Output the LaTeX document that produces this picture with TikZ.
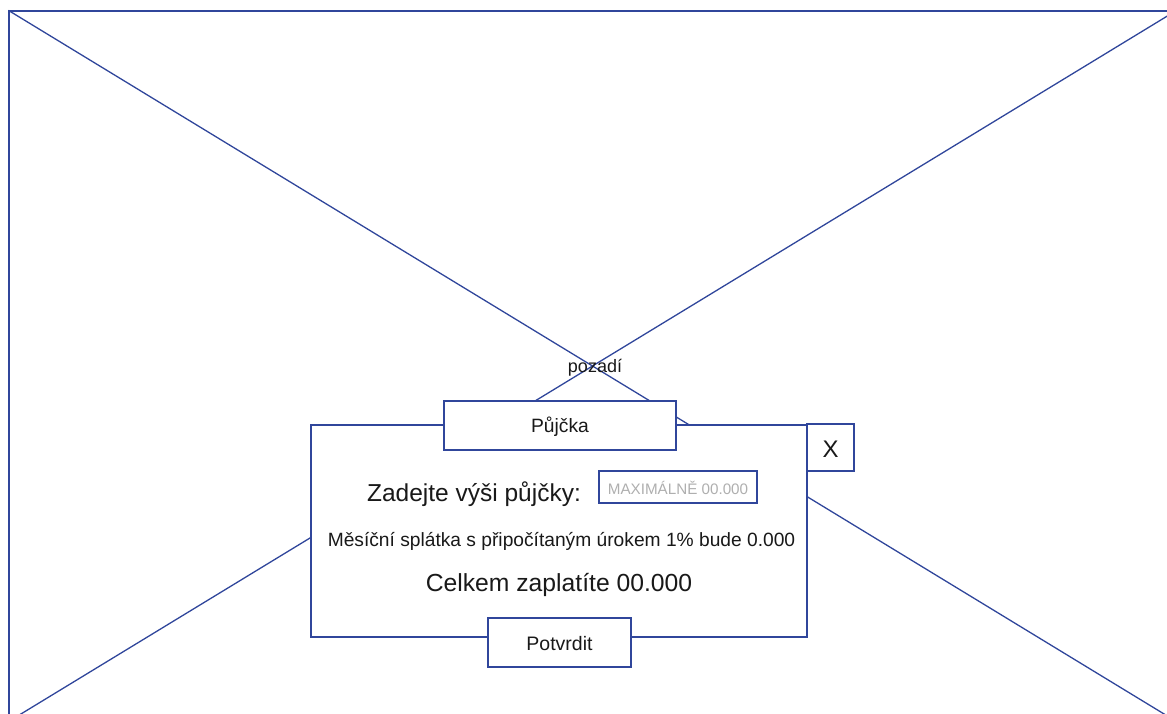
\documentclass[tikz,border=0pt]{standalone}
\usepackage{fontspec}
\setmainfont{Liberation Sans}
\definecolor{linec}{RGB}{48,70,155}
\definecolor{txt}{RGB}{25,25,25}
\definecolor{hint}{RGB}{175,175,175}
\begin{document}
\begin{tikzpicture}[x=1pt,y=-1pt,
  wire/.style={draw=linec,line width=1.3pt},
  box/.style={wire,fill=white,inner sep=0pt,rectangle,text=txt},
  lbl/.style={text=txt,inner sep=0pt,anchor=base},
  fs/.style={font=\fontsize{#1}{#1}\selectfont}]
\useasboundingbox (0,0) rectangle (1167,714);
\clip (0,0) rectangle (1167,714);

% background placeholder with crossed diagonals
\node[box, fill=none, minimum width=1167pt, minimum height=710pt] (bg) at (592.5,366) {};
\draw[wire] (bg.north west) -- (bg.south east);
\draw[wire] (bg.north east) -- (bg.south west);
\node[lbl, fs=18] (bglabel) at (595,372.7) {pozadí};

% dialog window
\node[box, minimum width=496pt, minimum height=212pt] (dialog) at (559,531) {};
\node[box, minimum width=232pt, minimum height=49pt, fs=19.3,
      text height=13.6pt, text depth=0pt] (title) at (560,425.5) {Půjčka};
\node[box, minimum width=47pt, minimum height=47pt, fs=24,
      text height=20.4pt, text depth=0pt] (close) at (830.5,447.5) {X};

% content
\node[lbl, fs=24.5] (prompt) at (474,501.5) {Zadejte výši půjčky:};
\node[box, minimum width=158pt, minimum height=32pt, fs=15.2, text=hint,
      text height=14.6pt, text depth=0pt] (amount) at (678,487) {MAXIMÁLNĚ 00.000};
\node[lbl, fs=19.2] (monthly) at (561.5,546.5) {Měsíční splátka s připočítaným úrokem 1\% bude 0.000};
\node[lbl, fs=24.7] (total) at (559,591.5) {Celkem zaplatíte 00.000};
\node[box, minimum width=143pt, minimum height=49pt, fs=19.5,
      text height=15pt, text depth=0pt] (confirm) at (559.5,642.5) {Potvrdit};
\end{tikzpicture}
\end{document}
